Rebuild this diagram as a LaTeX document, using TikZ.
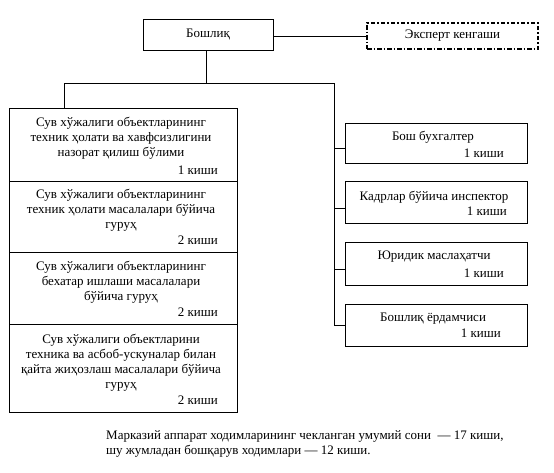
\documentclass[tikz,border=0pt]{standalone}
\usepackage{fontspec}
\setmainfont{Liberation Serif}
\begin{document}
\begin{tikzpicture}[x=1pt,y=-1pt,
  box/.style={draw,line width=1pt,inner sep=0pt},
  dashbox/.style={draw,line width=1.1pt,inner sep=0pt,dash pattern=on 4.5pt off 2pt on 1.5pt off 2pt},
  line/.style={line width=1pt},
  txt/.style={inner sep=0pt,align=center,font=\fontsize{13}{15}\selectfont},
  num/.style={inner sep=0pt,anchor=east,font=\fontsize{13}{15}\selectfont}]
\useasboundingbox (0,0) rectangle (554,472);
% top
\node[box,minimum width=130pt,minimum height=31pt] (boss) at (208,34.5) {};
\node[txt] (bosst) at (boss.center) {Бошлиқ};
\node[dashbox,minimum width=171pt,minimum height=26pt] (exp) at (452.5,36) {};
\node[txt] (expt) at (exp.center) {Эксперт кенгаши};
\draw[line] (boss.east |- exp.west) -- (exp.west);
% left stack
\node[box,minimum width=228pt,minimum height=73pt] (l1) at (123,144.5) {};
\node[box,minimum width=228pt,minimum height=71pt] (l2) at (123,216.5) {};
\node[box,minimum width=228pt,minimum height=72pt] (l3) at (123,288) {};
\node[box,minimum width=228pt,minimum height=88pt] (l4) at (123,368) {};
\node[txt] (l1t) at (121,138) {Сув хўжалиги объектларининг\\техник ҳолати ва хавфсизлигини\\назорат қилиш бўлими};
\node[num] (l1n) at (218,170) {1 киши};
\node[txt] (l2t) at (121,210) {Сув хўжалиги объектларининг\\техник ҳолати масалалари бўйича\\гуруҳ};
\node[num] (l2n) at (218,240) {2 киши};
\node[txt] (l3t) at (121,282) {Сув хўжалиги объектларининг\\бехатар ишлаши масалалари\\бўйича гуруҳ};
\node[num] (l3n) at (218,312) {2 киши};
\node[txt] (l4t) at (121,363) {Сув хўжалиги объектларини\\техника ва асбоб-ускуналар билан\\қайта жиҳозлаш масалалари бўйича\\гуруҳ};
\node[num] (l4n) at (218,400) {2 киши};
% right boxes
\node[box,minimum width=182pt,minimum height=40pt] (r1) at (436,143) {};
\node[box,minimum width=182pt,minimum height=42pt] (r2) at (436,202) {};
\node[box,minimum width=182pt,minimum height=43pt] (r3) at (436,263.5) {};
\node[box,minimum width=182pt,minimum height=42pt] (r4) at (436,325) {};
\node[txt] (r1t) at (433,137) {Бош бухгалтер};
\node[num] (r1n) at (504,153) {1 киши};
\node[txt] (r2t) at (434,197) {Кадрлар бўйича инспектор};
\node[num] (r2n) at (507,211) {1 киши};
\node[txt] (r3t) at (434,257) {Юридик маслаҳатчи};
\node[num] (r3n) at (504,273) {1 киши};
\node[txt] (r4t) at (433,319) {Бошлиқ ёрдамчиси};
\node[num] (r4n) at (501,333) {1 киши};
% connectors
\coordinate (mid) at (206,83);
\coordinate (lt) at (64,83);
\coordinate (rt) at (334,83);
\coordinate (j1) at (334,148);
\coordinate (j2) at (334,208);
\coordinate (j3) at (334,269);
\coordinate (j4) at (334,325);
\draw[line] (boss.south -| mid) -- (mid);
\draw[line] (lt |- l1.north) -- (lt) -- (rt) -- (j4);
\draw[line] (j1) -- (j1 -| r1.west);
\draw[line] (j2) -- (j2 -| r2.west);
\draw[line] (j3) -- (j3 -| r3.west);
\draw[line] (j4) -- (j4 -| r4.west);
% note
\node[inner sep=0pt,anchor=north west,align=left,font=\fontsize{13}{15}\selectfont] (note) at (106,430)
 {Марказий аппарат ходимларининг чекланган умумий сони~ — 17 киши,\\шу жумладан бошқарув ходимлари — 12 киши.};
\end{tikzpicture}
\end{document}
